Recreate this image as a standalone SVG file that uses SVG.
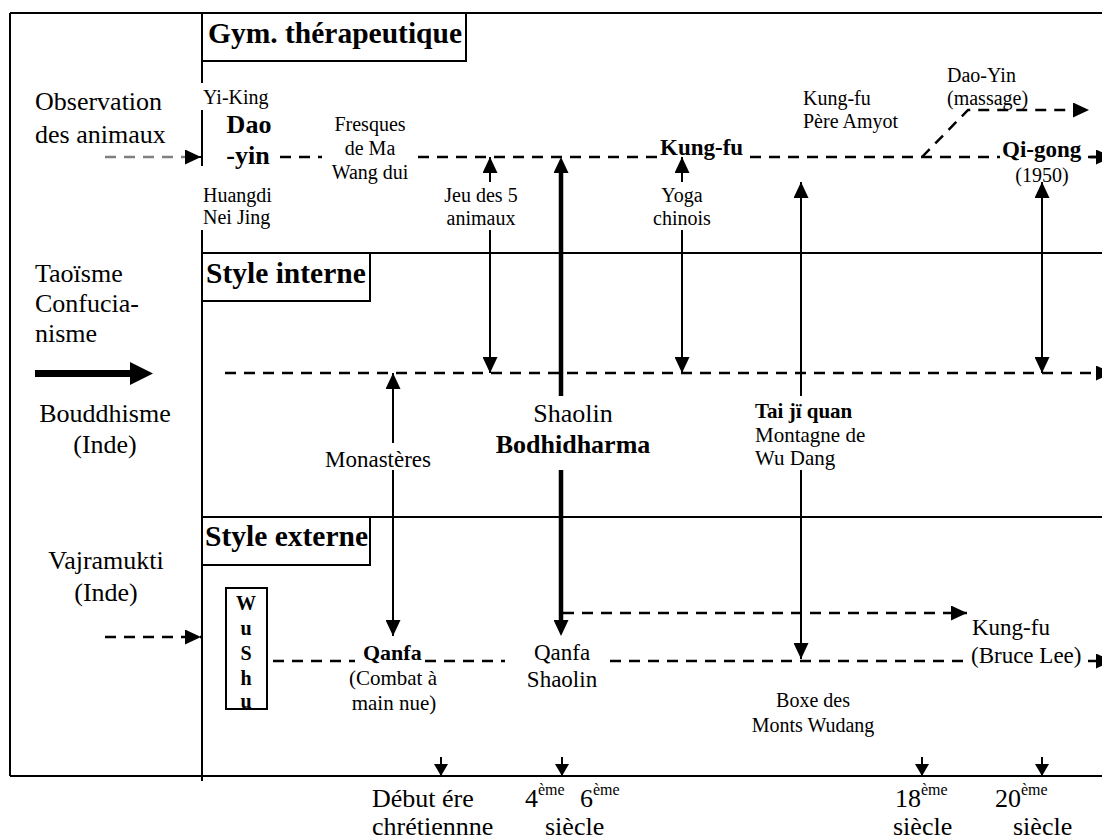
<svg xmlns="http://www.w3.org/2000/svg" width="1102" height="839" viewBox="0 0 1102 839">
<defs>
<style>
text{font-family:"Liberation Serif","Times New Roman",serif;fill:#000}
.L{font-size:26px}
.T{font-size:29.5px;font-weight:bold}
.s20{font-size:20px}
.s21{font-size:21px}
.s23{font-size:23px}
.s25{font-size:26px}
.b{font-weight:bold}
.m{text-anchor:middle}
.frame{fill:none;stroke:#000;stroke-width:2}
.box{fill:#fff;stroke:#000;stroke-width:2}
.dash{fill:none;stroke:#000;stroke-width:2.5;stroke-dasharray:11 8}
.gdash{fill:none;stroke:#808080;stroke-width:2.5;stroke-dasharray:11 8}
.solid{fill:none;stroke:#000;stroke-width:2}
.thick{fill:none;stroke:#000;stroke-width:4.5}
.sup{font-size:16px}
</style>
<marker id="ah" viewBox="0 0 16 15" refX="16" refY="7.5" markerWidth="16" markerHeight="15" markerUnits="userSpaceOnUse" orient="auto-start-reverse">
<path d="M0,0 L16,7.5 L0,15 z" fill="#000"/>
</marker>
<marker id="ahT" viewBox="0 0 16 15" refX="8" refY="7.5" markerWidth="16" markerHeight="15" markerUnits="userSpaceOnUse" orient="auto">
<path d="M0,0 L16,7.5 L0,15 z" fill="#000"/>
</marker>
<marker id="ahS" viewBox="0 0 12 14" refX="12" refY="7" markerWidth="12" markerHeight="14" markerUnits="userSpaceOnUse" orient="auto">
<path d="M0,0 L12,7 L0,14 z" fill="#000"/>
</marker>
</defs>
<rect width="1102" height="839" fill="#fff"/>

<g id="frame">
<path class="frame" d="M10,13 H1102 M10,13 V776 M10,776 H1102"/>
<path class="frame" d="M202,13 V83 M202,110 V166 M202,230 V781"/>
<path class="frame" d="M202,253 H1102 M202,517 H1102" stroke-width="1.8"/>
</g>

<g id="band-gym">
<rect class="box" x="202" y="13" width="264" height="48"/>
<text class="T" x="208" y="43">Gym. thérapeutique</text>
</g>
<g id="band-interne">
<rect class="box" x="202" y="253" width="168" height="48"/>
<text class="T" x="206" y="283">Style interne</text>
</g>
<g id="band-externe">
<rect class="box" x="202" y="517" width="168" height="48"/>
<text class="T" x="205" y="546">Style externe</text>
</g>

<g id="left-labels">
<text class="L" x="35" y="110">Observation</text>
<text class="L" x="35" y="143">des animaux</text>
<text class="L" x="35" y="282">Taoïsme</text>
<text class="L" x="35" y="312">Confucia-</text>
<text class="L" x="35" y="342">nisme</text>
<path d="M35,370 H130 V362 L153,373.5 L130,385 V377 H35 z" fill="#000"/>
<text class="L m" x="105" y="422">Bouddhisme</text>
<text class="L m" x="105" y="453">(Inde)</text>
<text class="L m" x="106" y="569">Vajramukti</text>
<text class="L m" x="106" y="601">(Inde)</text>
</g>

<g id="connectors">
<path class="gdash" d="M105,157 H200"/>
<path class="solid" d="M190,157 H201" marker-end="url(#ah)"/>
<path class="dash" d="M280,157 H322 M418,157 H657 M750,157 H1000 M1088,157 H1100"/>
<path class="dash" d="M1090,157 H1112" marker-end="url(#ah)"/>
<path class="dash" d="M922,157 L968,110 H1089" marker-end="url(#ah)"/>
<path class="dash" d="M225,373 H1112" marker-end="url(#ah)"/>
<path class="dash" d="M273,661 H355 M425,661 H505 M610,661 H968"/>
<path class="dash" d="M1088,661 H1112" marker-end="url(#ah)"/>
<path class="dash" d="M563,613 H967" marker-end="url(#ah)"/>
<path class="dash" d="M105,637 H201" marker-end="url(#ah)"/>
<path class="solid" d="M490,182 V157" marker-end="url(#ah)"/>
<path class="solid" d="M490,230 V373" marker-end="url(#ah)"/>
<path class="thick" d="M561,396 V165" marker-end="url(#ahT)"/>
<path class="thick" d="M561,470 V628" marker-end="url(#ahT)"/>
<path class="solid" d="M393,443 V373" marker-end="url(#ah)"/>
<path class="solid" d="M393,470 V636" marker-end="url(#ah)"/>
<path class="solid" d="M682,182 V157" marker-end="url(#ah)"/>
<path class="solid" d="M682,230 V373" marker-end="url(#ah)"/>
<path class="solid" d="M801,396 V182" marker-end="url(#ah)"/>
<path class="solid" d="M801,470 V659" marker-end="url(#ah)"/>
<path class="solid" d="M1042,182 V373" marker-start="url(#ah)" marker-end="url(#ah)"/>
<path class="solid" d="M441,757 V776" marker-end="url(#ahS)"/>
<path class="solid" d="M562,757 V776" marker-end="url(#ahS)"/>
<path class="solid" d="M922,757 V776" marker-end="url(#ahS)"/>
<path class="solid" d="M1042,757 V776" marker-end="url(#ahS)"/>
</g>

<g id="n-daoyin">
<text class="s20" x="203" y="104">Yi-King</text>
<text class="b m" font-size="26" x="249" y="133">Dao</text>
<text class="b m" font-size="26" x="248" y="164">-yin</text>
<text class="s20" x="203" y="202">Huangdi</text>
<text class="s20" x="203" y="224">Nei Jing</text>
</g>
<g id="n-fresques">
<text class="s20 m" x="370" y="131">Fresques</text>
<text class="s20 m" x="370" y="155">de Ma</text>
<text class="s20 m" x="370" y="179">Wang dui</text>
</g>
<g id="n-jeu">
<text class="s20 m" x="481" y="202">Jeu des 5</text>
<text class="s20 m" x="481" y="225">animaux</text>
</g>
<g id="n-kungfu-top">
<text class="s23 b" x="660" y="155">Kung-fu</text>
</g>
<g id="n-yoga">
<text class="s20 m" x="682" y="202">Yoga</text>
<text class="s20 m" x="682" y="225">chinois</text>
</g>
<g id="n-amyot">
<text class="s20" x="803" y="105">Kung-fu</text>
<text class="s20" x="803" y="128">Père Amyot</text>
</g>
<g id="n-daoyin-massage">
<text class="s20" x="947" y="82">Dao-Yin</text>
<text class="s20" x="947" y="105">(massage)</text>
</g>
<g id="n-qigong">
<text class="s23 b" x="1002" y="157">Qi-gong</text>
<text class="s20 m" x="1042" y="182">(1950)</text>
</g>

<g id="n-shaolin">
<text class="s25 m" x="573" y="422">Shaolin</text>
<text class="s25 b m" x="573" y="453">Bodhidharma</text>
</g>
<g id="n-monasteres">
<text class="s23 m" x="378" y="467">Monastères</text>
</g>
<g id="n-taiji">
<text class="s21 b" x="755" y="418">Tai jï quan</text>
<text class="s21" x="755" y="442">Montagne de</text>
<text class="s21" x="755" y="465">Wu Dang</text>
</g>

<g id="n-wushu">
<rect class="box" x="226" y="588" width="41" height="121" stroke-width="1.8"/>
<text class="s20 b m" x="246" y="610">W</text>
<text class="s20 b m" x="246" y="635">u</text>
<text class="s20 b m" x="246" y="660">S</text>
<text class="s20 b m" x="246" y="685">h</text>
<text class="s20 b m" x="246" y="708">u</text>
</g>
<g id="n-qanfa">
<text class="b" font-size="22" x="363" y="660">Qanfa</text>
<text class="s21 m" x="393" y="685">(Combat à</text>
<text class="s21 m" x="394" y="710">main nue)</text>
</g>
<g id="n-qanfa-shaolin">
<text class="s23 m" x="562" y="660">Qanfa</text>
<text class="s23 m" x="562" y="687">Shaolin</text>
</g>
<g id="n-brucelee">
<text class="s23" x="972" y="635">Kung-fu</text>
<text class="s23" x="971" y="663">(Bruce Lee)</text>
</g>
<g id="n-boxe">
<text class="s20 m" x="813" y="707">Boxe des</text>
<text class="s20 m" x="813" y="732">Monts Wudang</text>
</g>

<g id="axis-labels">
<text class="L" x="372" y="807">Début ére</text>
<text class="L" x="372" y="835">chrétiennne</text>
<text class="L" x="525" y="807">4<tspan class="sup" dy="-12">ème</tspan></text>
<text class="L" x="580" y="807">6<tspan class="sup" dy="-12">ème</tspan></text>
<text class="L" x="545" y="835">siècle</text>
<text class="L" x="895" y="807">18<tspan class="sup" dy="-12">ème</tspan></text>
<text class="L" x="893" y="835">siècle</text>
<text class="L" x="995" y="807">20<tspan class="sup" dy="-12">ème</tspan></text>
<text class="L" x="1013" y="835">siècle</text>
</g>
</svg>
